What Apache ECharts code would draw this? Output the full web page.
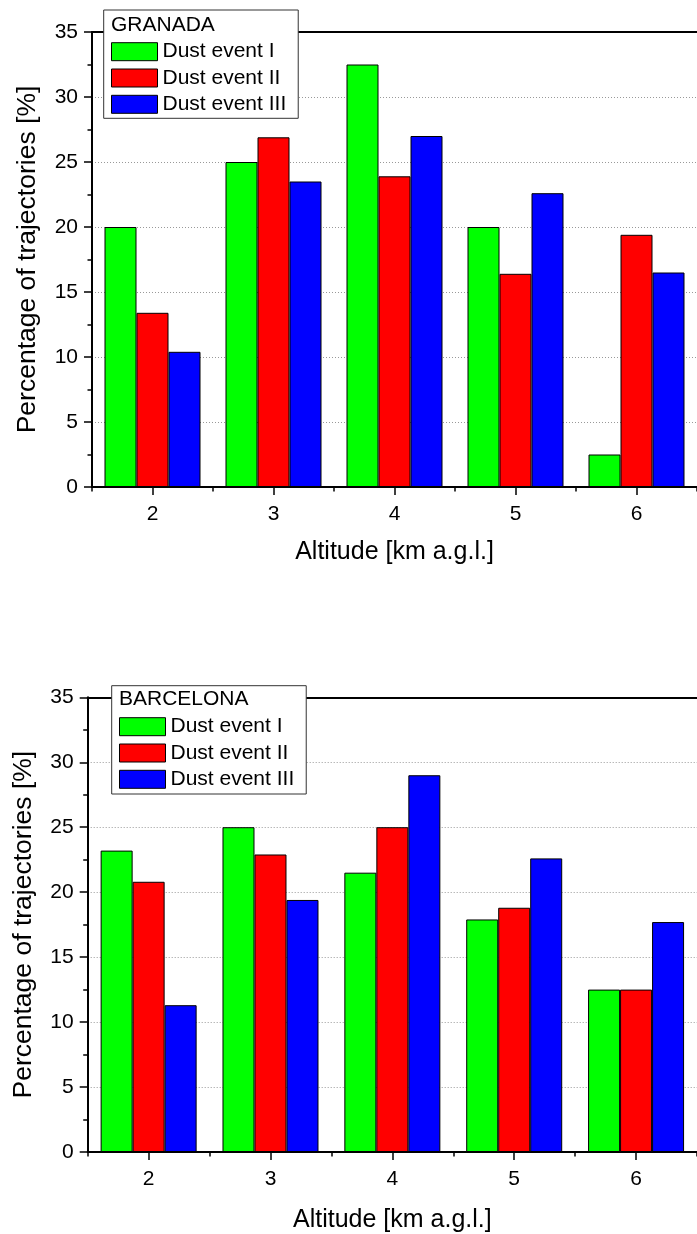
<!DOCTYPE html>
<html>
<head>
<meta charset="utf-8">
<script src="https://cdn.jsdelivr.net/npm/echarts@6/dist/echarts.min.js"></script>
<style>
html,body{margin:0;padding:0;background:#fff;}
#c{width:697px;height:1234px;}
</style>
</head>
<body>
<div id="c"></div>
<script>
// ---- data ----
const categories = ['2', '3', '4', '5', '6'];
const seriesNames = ['Dust event I', 'Dust event II', 'Dust event III'];
const seriesColors = ['#00ff00', '#ff0000', '#0000ff'];
const granadaI   = [20.0, 25.0, 32.5, 20.0, 2.5];
const granadaII  = [13.4, 26.9, 23.9, 16.4, 19.4];
const granadaIII = [10.4, 23.5, 27.0, 22.6, 16.5];
const barcelonaI   = [23.2, 25.0, 21.5, 17.9, 12.5];
const barcelonaII  = [20.8, 22.9, 25.0, 18.8, 12.5];
const barcelonaIII = [11.3, 19.4, 29.0, 22.6, 17.7];
const panelTitles = ['GRANADA', 'BARCELONA'];
const xTitle = 'Altitude [km a.g.l.]';
const yTitle = 'Percentage of trajectories [%]';

const FONT = "'Liberation Sans', Arial, sans-serif";
const chart = echarts.init(document.getElementById('c'), null, {renderer: 'canvas'});

const grids = [
  {left: 92, top: 32, width: 611.5, height: 455},
  {left: 87.7, top: 697.3, width: 613, height: 455.7}
];
const xNameGaps = [53, 56];

function xAxesFor(gi) {
  return [
    { // main axis with labels and centered ticks
      type: 'category', gridIndex: gi, data: categories, position: 'bottom',
      axisLine: {show: true, onZero: false, lineStyle: {color: '#000', width: 2}},
      axisTick: {show: true, alignWithLabel: true, length: 8, lineStyle: {color: '#000', width: 1.5}},
      axisLabel: {show: true, margin: 17, color: '#000', fontSize: 21, fontFamily: FONT},
      name: xTitle, nameLocation: 'middle', nameGap: xNameGaps[gi],
      nameTextStyle: {color: '#000', fontSize: 25, fontFamily: FONT},
      splitLine: {show: false}
    },
    { // minor ticks at band boundaries
      type: 'category', gridIndex: gi, data: categories, position: 'bottom',
      axisLine: {show: false},
      axisTick: {show: true, alignWithLabel: false, interval: 0, length: 4.5, lineStyle: {color: '#000', width: 1.5}},
      axisLabel: {show: false},
      splitLine: {show: false}
    },
    { // top frame line
      type: 'category', gridIndex: gi, data: categories, position: 'top',
      axisLine: {show: true, onZero: false, lineStyle: {color: '#000', width: 2}},
      axisTick: {show: false}, axisLabel: {show: false}, splitLine: {show: false}
    }
  ];
}

function yAxisFor(gi) {
  return {
    type: 'value', gridIndex: gi, min: 0, max: 35, interval: 5,
    axisLine: {show: true, onZero: false, lineStyle: {color: '#000', width: 2}},
    axisTick: {show: true, length: 8, lineStyle: {color: '#000', width: 1.5}},
    minorTick: {show: true, splitNumber: 2, length: 4.5, lineStyle: {color: '#000', width: 1.5}},
    axisLabel: {margin: 14, color: '#000', fontSize: 21, fontFamily: FONT},
    splitLine: {show: true, lineStyle: {color: '#999', width: 1, type: [1, 2]}},
    name: yTitle, nameLocation: 'middle', nameGap: 51, nameRotate: 90,
    nameTextStyle: {color: '#000', fontSize: 26.5, fontFamily: FONT}
  };
}

const datasets = [[granadaI, granadaII, granadaIII], [barcelonaI, barcelonaII, barcelonaIII]];
const series = [];
datasets.forEach((set, gi) => {
  set.forEach((vals, si) => {
    series.push({
      type: 'bar', name: seriesNames[si], data: vals,
      xAxisIndex: gi * 3, yAxisIndex: gi,
      barWidth: 32, barGap: '0%',
      itemStyle: {color: seriesColors[si], borderColor: '#000', borderWidth: 1},
      emphasis: {disabled: true}
    });
  });
});

function legendFor(left, top, padding) {
  return {
    show: true, orient: 'vertical', left: left, top: top, padding: padding,
    data: seriesNames, icon: 'rect', itemWidth: 46, itemHeight: 18, itemGap: 5.3,
    backgroundColor: '#fff', borderColor: '#333', borderWidth: 1,
    itemStyle: {borderColor: '#000', borderWidth: 1},
    textStyle: {color: '#000', fontSize: 21, fontFamily: FONT},
    selectedMode: false
  };
}

chart.setOption({
  animation: false,
  backgroundColor: '#fff',
  grid: grids,
  xAxis: [...xAxesFor(0), ...xAxesFor(1)],
  yAxis: [yAxisFor(0), yAxisFor(1)],
  legend: [
    legendFor(103.7, 10, [31.2, 12, 3.5, 7.3]),
    legendFor(111.7, 685.7, [30.5, 12, 4.2, 7.3])
  ],
  title: [
    {text: panelTitles[0], left: 111, top: 15, padding: 0, z: 10,
     textStyle: {color: '#000', fontSize: 21, fontWeight: 'normal', fontFamily: FONT}},
    {text: panelTitles[1], left: 119, top: 689, padding: 0, z: 10,
     textStyle: {color: '#000', fontSize: 21, fontWeight: 'normal', fontFamily: FONT}}
  ],
  series: series
});
</script>
</body>
</html>
